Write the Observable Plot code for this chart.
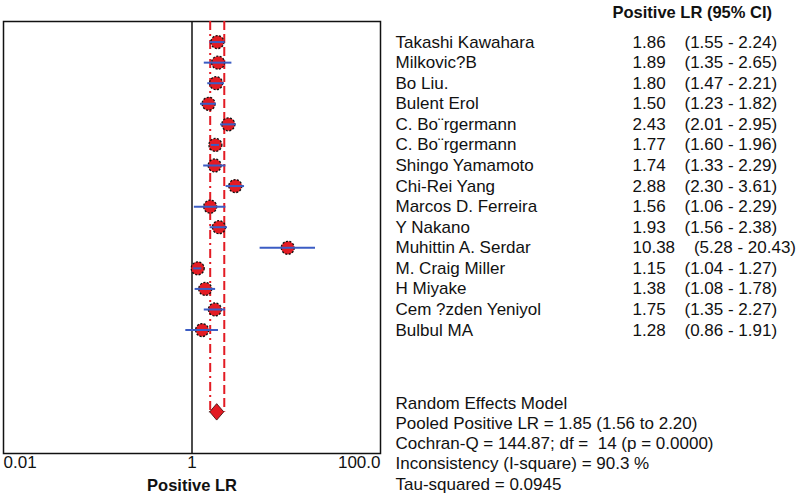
<!DOCTYPE html>
<html>
<head>
<meta charset="utf-8">
<script src="https://cdn.jsdelivr.net/npm/d3@7"></script>
<script src="https://cdn.jsdelivr.net/npm/@observablehq/plot@0.6"></script>
<style>
  html, body { margin: 0; padding: 0; background: #fff; }
  #chart svg { display: block; }
</style>
</head>
<body>
<div id="chart"></div>
<script>
// ---- data ----
const studies = ["Takashi Kawahara", "Milkovic?B", "Bo Liu.", "Bulent Erol", "C. Bo\u00A8rgermann",
  "C. Bo\u00A8rgermann", "Shingo Yamamoto", "Chi-Rei Yang", "Marcos D. Ferreira", "Y Nakano",
  "Muhittin A. Serdar", "M. Craig Miller", "H Miyake", "Cem ?zden Yeniyol", "Bulbul MA"];
const lr  = [1.86, 1.89, 1.80, 1.50, 2.43, 1.77, 1.74, 2.88, 1.56, 1.93, 10.38, 1.15, 1.38, 1.75, 1.28];
const lrLow  = [1.55, 1.35, 1.47, 1.23, 2.01, 1.60, 1.33, 2.30, 1.06, 1.56, 5.28, 1.04, 1.08, 1.35, 0.86];
const lrHigh = [2.24, 2.65, 2.21, 1.82, 2.95, 1.96, 2.29, 3.61, 2.29, 2.38, 20.43, 1.27, 1.78, 2.27, 1.91];
const pooled = [1.85, 1.56, 2.20]; // estimate, low, high
const header = "Positive LR (95% CI)";
const summaryLines = ["Random Effects Model",
  "Pooled Positive LR = 1.85 (1.56 to 2.20)",
  "Cochran-Q = 144.87; df =  14 (p = 0.0000)",
  "Inconsistency (I-square) = 90.3 %",
  "Tau-squared = 0.0945"];
const tickValues = [0.01, 1, 100];
const tickLabels = ["0.01", "1", "100.0"];
const xLabel = "Positive LR";

// ---- layout helpers ----
const RED = "#e31b23", BLUE = "#3b5cc4";
const FONT = "Liberation Sans, Arial, sans-serif";
const nRows = 21;          // frame spans rows 0..21
const pooledRow = 19;
const rows = studies.map((s, i) => ({
  name: s, lr: lr[i], lo: lrLow[i], hi: lrHigh[i], row: i + 1,
  txt: lr[i].toFixed(2) + "\u00A0\u00A0\u00A0\u00A0(" + lrLow[i].toFixed(2) + " - " + lrHigh[i].toFixed(2) + ")"
}));
const diamond = [
  {x: pooled[1], y1: pooledRow, y2: pooledRow},
  {x: pooled[0], y1: pooledRow - 0.4, y2: pooledRow + 0.4},
  {x: pooled[2], y1: pooledRow, y2: pooledRow}
];
const summary = summaryLines.map((t, i) => ({t, row: 18.55 + i * 0.985}));
const ticks = tickValues.map((v, i) => ({v, label: tickLabels[i]}));

const chart = Plot.plot({
  width: 800,
  height: 495,
  marginLeft: 3,
  marginRight: 420,
  marginTop: 21,
  marginBottom: 42,
  style: {fontFamily: FONT, background: "#fff"},
  x: {type: "log", domain: [0.01, 100], axis: null},
  y: {domain: [0, nRows], reverse: true, axis: null},
  marks: [
    Plot.frame({stroke: "#111", strokeWidth: 1.5}),
    Plot.ruleX([1], {y1: 0, y2: nRows, stroke: "#111", strokeWidth: 1.5}),
    Plot.ruleX([pooled[1]], {y1: 0, y2: pooledRow, stroke: RED, strokeWidth: 2, strokeDasharray: "9,4,2,4"}),
    Plot.ruleX([pooled[2]], {y1: 0, y2: pooledRow, stroke: RED, strokeWidth: 2, strokeDasharray: "9,4"}),
    Plot.dot(rows, {x: "lr", y: "row", r: 6.5, fill: RED, stroke: "#111", strokeWidth: 1.3, strokeDasharray: "2,1.5"}),
    Plot.ruleY(rows, {y: "row", x1: "lo", x2: "hi", stroke: BLUE, strokeWidth: 2}),
    Plot.areaY(diamond, {x: "x", y1: "y1", y2: "y2", fill: RED, stroke: "#300", strokeWidth: 0.8}),
    // right-hand table
    Plot.text([header], {x: () => 100, y: () => 0, dx: 232, dy: -9, text: d => d, textAnchor: "start", fontSize: 16.5, fontWeight: "bold", fill: "#111"}),
    Plot.text(rows, {x: () => 100, y: "row", dx: 15, text: "name", textAnchor: "start", fontSize: 17, fill: "#111"}),
    Plot.text(rows, {x: () => 100, y: "row", dx: 252, text: "txt", textAnchor: "start", fontSize: 17, fill: "#111"}),
    Plot.text(summary, {x: () => 100, y: "row", dx: 15, text: "t", textAnchor: "start", fontSize: 17, fill: "#111"}),
    // axis labels
    Plot.text(ticks.slice(0, 1), {x: "v", y: () => nRows, dy: 9, text: "label", textAnchor: "start", fontSize: 17, fill: "#111"}),
    Plot.text(ticks.slice(1, 2), {x: "v", y: () => nRows, dy: 9, text: "label", textAnchor: "middle", fontSize: 17, fill: "#111"}),
    Plot.text(ticks.slice(2), {x: "v", y: () => nRows, dy: 9, text: "label", textAnchor: "end", fontSize: 17, fill: "#111"}),
    Plot.text([xLabel], {x: () => 1, y: () => nRows, dy: 32, text: d => d, textAnchor: "middle", fontSize: 16.5, fontWeight: "bold", fill: "#111"})
  ]
});
document.getElementById("chart").appendChild(chart);
</script>
</body>
</html>
